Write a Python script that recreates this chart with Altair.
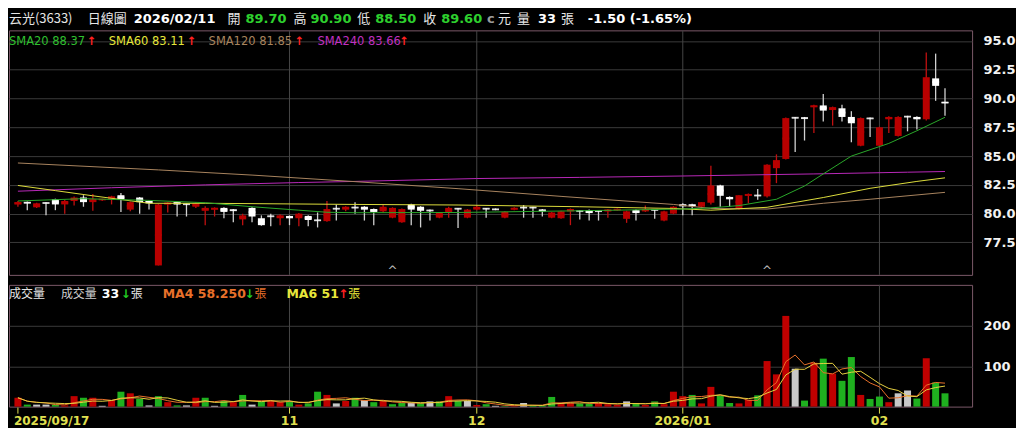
import altair as alt
import pandas as pd

# ---------------- data ----------------
opens = [80.8, 81.0, 80.55, 80.95, 81.25, 80.8, 81.1, 81.4, 81.0, 81.2,
         81.25, 81.6, 80.35, 81.4, 81.1, 75.5, 80.8, 81.0, 80.85, 80.6,
         80.25, 80.35, 80.5, 80.35, 79.5, 80.5, 79.6, 79.8, 79.6, 79.8,
         79.6, 79.8, 79.45, 79.35, 80.45, 80.35, 80.55, 80.6, 80.4, 80.2,
         79.65, 79.25, 80.8, 80.6, 80.3, 79.65, 80.1, 80.45, 79.65, 80.35,
         80.45, 80.4, 79.65, 80.35, 80.55, 80.55, 80.35, 79.65, 79.6, 80.2,
         80.25, 80.3, 80.25, 80.2, 80.3, 79.55, 80.3, 80.2, 80.35, 79.4,
         80.0, 80.8, 80.8, 80.6, 80.95, 82.45, 81.45, 80.4, 81.55, 81.6,
         81.5, 83.95, 84.75, 88.35, 88.35, 89.25, 89.4, 89.0, 89.15, 88.4,
         85.9, 88.3, 85.9, 88.2, 86.75, 88.45, 88.4, 88.2, 91.75, 89.7]
highs = [81.1, 81.05, 80.95, 81.0, 81.3, 81.2, 81.5, 81.6, 81.7, 81.3,
         81.55, 81.8, 81.05, 81.45, 81.15, 80.85, 81.0, 81.05, 80.9, 81.0,
         80.65, 80.55, 80.55, 80.4, 80.0, 80.55, 79.85, 80.0, 79.95, 79.85,
         80.05, 79.85, 80.1, 81.1, 80.8, 80.65, 81.0, 80.65, 80.45, 80.75,
         80.55, 80.45, 80.85, 80.65, 80.35, 80.15, 80.6, 80.5, 80.4, 80.75,
         80.5, 80.45, 80.2, 80.55, 80.75, 80.6, 80.4, 80.15, 80.25, 80.45,
         80.3, 80.35, 80.3, 80.4, 80.45, 80.25, 80.35, 80.7, 80.4, 80.25,
         80.65, 80.9, 80.85, 81.0, 84.15, 82.5, 81.5, 81.6, 81.75, 82.15,
         84.3, 85.15, 88.35, 88.4, 88.4, 89.45, 90.4, 89.3, 89.45, 88.9,
         88.35, 88.35, 87.55, 88.45, 88.45, 88.5, 88.45, 94.0, 93.9, 90.9]
lows = [80.6, 80.3, 80.5, 79.85, 80.3, 80.0, 80.7, 80.6, 80.25, 81.1,
        80.8, 80.15, 80.2, 80.0, 80.35, 75.5, 80.1, 79.75, 79.75, 80.5,
        79.0, 79.75, 79.6, 79.25, 79.0, 79.25, 78.95, 78.9, 79.0, 79.0,
        78.9, 78.9, 78.8, 79.3, 79.4, 80.2, 80.0, 79.4, 79.0, 80.1,
        79.6, 79.2, 79.0, 78.8, 79.4, 79.6, 79.65, 78.75, 79.6, 80.3,
        79.65, 80.3, 79.6, 80.3, 79.65, 79.65, 79.75, 79.6, 79.55, 79.0,
        79.5, 79.4, 79.4, 79.65, 80.25, 79.2, 79.4, 80.15, 79.55, 79.35,
        79.95, 79.85, 79.85, 80.45, 80.8, 80.6, 80.6, 80.35, 80.9, 81.2,
        81.4, 82.65, 84.7, 85.35, 86.35, 87.0, 88.0, 87.65, 88.0, 86.2,
        85.85, 86.65, 85.85, 87.0, 86.7, 87.15, 87.3, 88.1, 89.8, 88.5]
closes = [81.0, 80.9, 80.9, 80.9, 80.8, 81.1, 81.4, 81.0, 81.25, 81.25,
          81.5, 81.2, 81.0, 81.0, 80.9, 80.8, 80.95, 80.8, 80.8, 80.9,
          80.5, 80.5, 80.15, 80.25, 79.85, 79.75, 79.0, 79.75, 79.85, 79.6,
          80.0, 79.45, 79.4, 80.4, 80.4, 80.6, 80.5, 80.35, 80.15, 80.6,
          80.5, 80.4, 80.35, 80.25, 80.25, 80.1, 80.5, 80.4, 80.35, 80.6,
          80.4, 80.35, 80.15, 80.5, 80.5, 80.5, 80.2, 80.1, 80.2, 80.4,
          80.2, 80.05, 80.2, 80.35, 80.4, 80.2, 80.05, 80.4, 80.3, 80.2,
          80.6, 80.65, 80.65, 81.0, 82.45, 81.55, 81.25, 81.6, 81.7, 81.55,
          84.25, 84.65, 88.3, 88.3, 88.25, 89.4, 88.95, 89.25, 88.4, 87.85,
          88.3, 88.25, 87.5, 88.4, 88.4, 88.4, 88.2, 91.85, 91.1, 89.6]
volumes = [22, 5, 5, 5, 5, 3, 26, 22, 22, 2,
           16, 37, 33, 19, 3, 26, 11, 3, 3, 22,
           22, 2, 14, 11, 29, 5, 13, 14, 11, 14,
           5, 8, 37, 29, 8, 14, 22, 16, 11, 14,
           6, 9, 9, 9, 13, 13, 26, 14, 14, 4,
           6, 2, 1, 1, 9, 2, 2, 24, 9, 9,
           7, 7, 9, 6, 4, 13, 7, 4, 13, 6,
           37, 26, 29, 8, 49, 28, 9, 8, 17, 28,
           113, 80, 225, 94, 15, 109, 119, 82, 64, 123,
           29, 19, 25, 11, 33, 40, 20, 120, 60, 33]
# 1 = up day (red), -1 = down day (green), 0 = unchanged (grey)
vol_dir = [1, -1, 0, 0, -1, 1, 1, -1, 1, 0,
           1, -1, 1, -1, 0, -1, 1, -1, 0, 1,
           -1, 0, -1, 1, -1, 0, -1, 1, 1, -1,
           1, -1, -1, 1, 0, 1, -1, 0, -1, 1,
           -1, -1, 0, -1, 0, -1, 1, -1, 0, 1,
           -1, 0, -1, 1, 0, -1, -1, -1, 1, 1,
           -1, -1, 1, 1, 1, 0, -1, 1, -1, 1,
           1, 1, -1, 1, 1, -1, -1, 1, 1, -1,
           1, 1, 1, 0, -1, 1, -1, 1, -1, -1,
           1, -1, -1, 1, 0, 0, -1, 1, -1, -1]

sma20_idx = [0, 7, 14, 20, 25, 30, 33, 36, 47, 60, 71, 74, 77, 81, 84, 86, 89, 93, 96, 99]
sma20_val = [81.1, 81.3, 81.15, 80.95, 80.6, 80.3, 80.12, 80.08, 80.1, 80.25,
             80.4, 80.5, 80.7, 81.25, 82.4, 83.45, 85.0, 86.1, 87.2, 88.37]
sma60_idx = [0, 4, 8, 14, 20, 36, 47, 60, 70, 74, 80, 86, 91, 96, 99]
sma60_val = [82.45, 82.0, 81.55, 80.9, 80.9, 80.8, 80.75, 80.6, 80.45, 80.3,
             80.55, 81.4, 82.2, 82.8, 83.11]
sma120_idx = [0, 15, 25, 36, 47, 58, 70, 74, 80, 86, 91, 99]
sma120_val = [84.4, 83.8, 83.35, 82.78, 82.17, 81.5, 80.8, 80.45, 80.4, 80.9, 81.25, 81.85]
sma240_idx = [0, 10, 20, 30, 36, 49, 60, 71, 85, 95, 99]
sma240_val = [81.95, 82.25, 82.5, 82.7, 82.8, 83.05, 83.15, 83.27, 83.45, 83.6, 83.66]

price_ticks = [77.5, 80.0, 82.5, 85.0, 87.5, 90.0, 92.5, 95.0]
volume_ticks = [100, 200]
tick_idx = [0, 29, 49, 71, 92]
tick_labels = ["2025/09/17", "11", "12", "2026/01", "02"]
grid_idx = [29, 49, 71, 92]
marker_idx = [40, 80]

# ---------------- tables ----------------
n = len(closes)
df = pd.DataFrame({"i": list(range(n)), "open": opens, "high": highs, "low": lows,
                   "close": closes, "vol": volumes, "vdir": vol_dir})
df["mid"] = (df["open"] + df["close"]) / 2
up = df["close"] >= df["open"]
df["bcol"] = ["#b80000" if u else "#ffffff" for u in up]
df["wcol"] = ["#c01010" if u else "#d0d0d0" for u in up]
df["vcol"] = df["vdir"].map({1: "#c00000", -1: "#1fb01f", 0: "#c8c8c8"})

df_ticks = pd.DataFrame({"i": tick_idx, "lab": tick_labels})
df_grid = pd.DataFrame({"i": grid_idx})
df_mark = pd.DataFrame({"i": marker_idx})
one = pd.DataFrame({"k": [0]})

# ---------------- layout ----------------
W, HP, HV = 965, 245, 122
xs = alt.Scale(domain=[-0.42, 101.36], nice=False, zero=False)
X = alt.X("i:Q", scale=xs, axis=None)
ps = alt.Scale(domain=[74.68, 95.92], nice=False, zero=False)
vs = alt.Scale(domain=[0, 302], nice=False, zero=True)

ax_common = dict(orient="right", title=None, ticks=False, domain=False,
                 labelColor="#f2f2f2", labelFont="DejaVu Sans", labelFontWeight="bold",
                 labelFontSize=13, labelPadding=11, gridColor="#3a3a3a", gridWidth=1)
axP = alt.Axis(values=price_ticks, format=".1f", **ax_common)
axV = alt.Axis(values=volume_ticks, format="d", **ax_common)

CJK = "Noto Sans CJK TC"
NUM = "DejaVu Sans"


def label(txt, x, y, color, size=12.5, bold=False, font=NUM, align="left"):
    return alt.Chart(one).mark_text(
        align=align, baseline="middle", font=font, fontSize=size,
        fontWeight="bold" if bold else "normal", color=color
    ).encode(x=alt.value(x), y=alt.value(y), text=alt.value(txt))


# ---------------- price panel ----------------
vgrid_p = alt.Chart(df_grid).mark_rule(color="#454545", strokeWidth=1).encode(x=X)
wick = alt.Chart(df).mark_rule(strokeWidth=1.3).encode(
    x=X, y=alt.Y("low:Q", scale=ps, axis=axP), y2="high:Q",
    color=alt.Color("wcol:N", scale=None))
body = alt.Chart(df).mark_bar(width=7).encode(
    x=X, y=alt.Y("open:Q", scale=ps, axis=axP), y2="close:Q",
    color=alt.Color("bcol:N", scale=None))
bodymin = alt.Chart(df).mark_tick(orient="horizontal", size=7, thickness=2).encode(
    x=X, y=alt.Y("mid:Q", scale=ps, axis=axP),
    color=alt.Color("bcol:N", scale=None))


def sma_line(idx, val, color):
    return alt.Chart(pd.DataFrame({"i": idx, "v": val})).mark_line(
        color=color, strokeWidth=1).encode(x=X, y=alt.Y("v:Q", scale=ps, axis=axP))


lines = [
    sma_line(sma240_idx, sma240_val, "#b828b8"),
    sma_line(sma120_idx, sma120_val, "#a8845e"),
    sma_line(sma60_idx, sma60_val, "#dcdc3c"),
    sma_line(sma20_idx, sma20_val, "#2aa82a"),
]
markers = alt.Chart(df_mark).mark_text(
    text="^", color="#bdbdbd", fontSize=12, font=NUM, baseline="middle"
).encode(x=X, y=alt.value(HP - 4))

WH = "#e6e6e6"
GR = "#2ed02e"
hy = -11
HS = 13
header = [
    label("云光(3633)", 0, hy, WH, size=13, font=CJK),
    label("日線圖", 79, hy, WH, size=13, font=CJK),
    label("2026/02/11", 125, hy, "#ffffff", size=HS, bold=True),
    label("開", 219, hy, WH, size=13, font=CJK),
    label("89.70", 237, hy, GR, size=HS, bold=True),
    label("高", 285, hy, WH, size=13, font=CJK),
    label("90.90", 302, hy, GR, size=HS, bold=True),
    label("低", 349, hy, WH, size=13, font=CJK),
    label("88.50", 367, hy, GR, size=HS, bold=True),
    label("收", 415, hy, WH, size=13, font=CJK),
    label("89.60", 433, hy, GR, size=HS, bold=True),
    label("c", 479, hy, "#9a9a9a", size=HS, bold=True),
    label("元", 490, hy, WH, size=13, font=CJK),
    label("量", 509, hy, WH, size=13, font=CJK),
    label("33", 530, hy, "#ffffff", size=HS, bold=True),
    label("張", 553, hy, WH, size=13, font=CJK),
    label("-1.50 (-1.65%)", 580, hy, "#ffffff", size=HS, bold=True),
]
ly = 12
legend = [
    label("SMA20 88.37", 0, ly, "#2fbf2f", size=11.5),
    label("↑", 78, ly, "#ff2020", size=11.5, bold=True),
    label("SMA60 83.11", 100, ly, "#e6e63a", size=11.5),
    label("↑", 178, ly, "#ff2020", size=11.5, bold=True),
    label("SMA120 81.85", 200, ly, "#a8845e", size=11.5),
    label("↑", 286, ly, "#ff2020", size=11.5, bold=True),
    label("SMA240 83.66", 309, ly, "#c030c0", size=11.5),
    label("↑", 391, ly, "#ff2020", size=11.5, bold=True),
]

price = alt.layer(vgrid_p, wick, body, bodymin, *lines, markers, *header, *legend).properties(
    width=W, height=HP)

# ---------------- volume panel ----------------
vgrid_v = alt.Chart(df_grid).mark_rule(color="#454545", strokeWidth=1).encode(x=X)
vbars = alt.Chart(df).mark_bar(width=7).encode(
    x=X, y=alt.Y("vol:Q", scale=vs, axis=axV), color=alt.Color("vcol:N", scale=None))
ma4 = alt.Chart(df).transform_window(
    ma4="mean(vol)", frame=[-3, 0], sort=[alt.SortField("i")]
).mark_line(color="#e8702a", strokeWidth=1).encode(x=X, y=alt.Y("ma4:Q", scale=vs, axis=axV))
ma6 = alt.Chart(df).transform_window(
    ma6="mean(vol)", frame=[-5, 0], sort=[alt.SortField("i")]
).mark_line(color="#e6d040", strokeWidth=1).encode(x=X, y=alt.Y("ma6:Q", scale=vs, axis=axV))

YL = "#e0e050"
xticks = alt.Chart(df_ticks).mark_rule(color=YL, strokeWidth=1).encode(
    x=X, y=alt.value(HV + 1), y2=alt.value(HV + 7))
xlab_first = alt.Chart(df_ticks).transform_filter("datum.i == 0").mark_text(
    align="left", baseline="middle", font=NUM, fontSize=12, fontWeight="bold",
    color=YL, dx=-4).encode(x=X, y=alt.value(HV + 14), text="lab:N")
xlab_rest = alt.Chart(df_ticks).transform_filter("datum.i > 0").mark_text(
    align="center", baseline="middle", font=NUM, fontSize=12.5, fontWeight="bold",
    color=YL).encode(x=X, y=alt.value(HV + 14), text="lab:N")

vy = 9
vheader = [
    label("成交量", 0, vy, WH, size=12, font=CJK),
    label("成交量", 52, vy, "#d0d0d0", size=12, font=CJK),
    label("33", 93, vy, "#ffffff", bold=True),
    label("↓", 112, vy, "#22cc22", size=12, bold=True),
    label("張", 122, vy, WH, size=12, font=CJK),
    label("MA4 58.250", 154, vy, "#e8702a", bold=True),
    label("↓", 236, vy, "#22cc22", size=12, bold=True),
    label("張", 246, vy, "#e8702a", size=12, font=CJK),
    label("MA6 51", 278, vy, "#e6e63a", bold=True),
    label("↑", 330, vy, "#ff2020", size=12, bold=True),
    label("張", 340, vy, "#e6e63a", size=12, font=CJK),
]

volume = alt.layer(vgrid_v, vbars, ma4, ma6, xticks, xlab_first, xlab_rest, *vheader).properties(
    width=W, height=HV)

chart = alt.vconcat(price, volume, spacing=6).properties(
    padding={"left": 0, "top": 4, "right": 0, "bottom": 0}
).configure(background="#000000").configure_view(stroke="#7a5868", strokeWidth=1)

chart.save("out.html", embed_options={"renderer": "svg", "actions": False})
